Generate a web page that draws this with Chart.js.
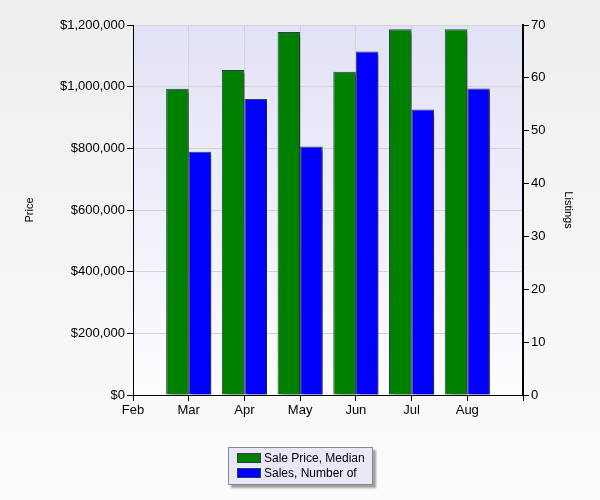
<!DOCTYPE html>
<html>
<head>
<meta charset="utf-8">
<script src="https://cdn.jsdelivr.net/npm/chart.js@4.4.0/dist/chart.umd.min.js"></script>
<style>
  body { margin: 0; background: #f7f7f7; }
  #wrap { position: relative; width: 600px; height: 500px; }
  #legend {
    position: absolute; left: 228px; top: 447px; width: 143px; height: 36px;
    background: #e8e8f8; border: 1px solid #8a8a8a;
    box-shadow: 3px 3px 2px #a0a0a0;
    font-family: "Liberation Sans", Arial, sans-serif; font-size: 12px; color: #000;
  }
  #legend .row { position: absolute; left: 8px; height: 14px; line-height: 14px; white-space: nowrap; }
  #legend .sw { display: inline-block; width: 22px; height: 8px; border: 1px solid #2f3f4f; vertical-align: -1px; margin-right: 3px; }
</style>
</head>
<body>
<div id="wrap">
  <canvas id="chart" width="600" height="500"></canvas>
  <div id="legend">
    <div class="row" style="top:3px"><span class="sw" style="background:#008000"></span>Sale Price, Median</div>
    <div class="row" style="top:18px"><span class="sw" style="background:#0000ff"></span>Sales, Number of</div>
  </div>
</div>
<script>
var months = ['Feb', 'Mar', 'Apr', 'May', 'Jun', 'Jul', 'Aug', 'Sep'];
var priceMedian = [null, 993000, 1054000, 1177000, 1048000, 1186000, 1186000, null];
var salesCount = [null, 46, 56, 47, 65, 54, 58, null];
var priceTicksMax = 1200000;
var listingsMax = 70;

// fond de la page et de la zone de tracé
var backgroundPlugin = {
    id: 'bg',
    beforeDraw: function (chart) {
        var ctx = chart.ctx;
        var a = chart.chartArea;
        var g = ctx.createLinearGradient(0, 0, 0, chart.height);
        g.addColorStop(0, '#eeeeee');
        g.addColorStop(1, '#fcfcfc');
        ctx.save();
        ctx.fillStyle = g;
        ctx.fillRect(0, 0, chart.width, chart.height);
        var g2 = ctx.createLinearGradient(0, a.top, 0, a.bottom);
        g2.addColorStop(0, '#e2e2f6');
        g2.addColorStop(1, '#fdfdff');
        ctx.fillStyle = g2;
        ctx.fillRect(a.left, a.top, a.right - a.left, a.bottom - a.top);
        ctx.restore();
    }
};

// ombre des barres
var shadowPlugin = {
    id: 'barShadow',
    beforeDatasetsDraw: function (chart) {
        var ctx = chart.ctx;
        ctx.save();
        ctx.shadowColor = 'rgba(0,0,0,0.45)';
        ctx.shadowOffsetX = 4;
        ctx.shadowOffsetY = 3;
        ctx.shadowBlur = 2;
    },
    afterDatasetsDraw: function (chart) {
        chart.ctx.restore();
    }
};

var tickFont = { family: '"Liberation Sans", Arial, sans-serif', size: 13 };
var titleFont = { family: '"Liberation Sans", Arial, sans-serif', size: 11 };

var ctx = document.getElementById('chart').getContext('2d');
var chart = new Chart(ctx, {
    type: 'bar',
    data: {
        labels: months,
        datasets: [{
            label: 'Sale Price, Median',
            data: priceMedian,
            yAxisID: 'y',
            backgroundColor: '#008000',
            borderColor: '#2f3f4f',
            borderWidth: 1
        }, {
            label: 'Sales, Number of',
            data: salesCount,
            yAxisID: 'y1',
            backgroundColor: '#0000ff',
            borderColor: '#2f3f4f',
            borderWidth: 1
        }]
    },
    options: {
        responsive: false,
        animation: false,
        layout: { padding: { top: 25, left: 0, right: 0, bottom: 0 } },
        datasets: { bar: { categoryPercentage: 0.81, barPercentage: 1.0 } },
        plugins: { legend: { display: false }, tooltip: { enabled: false } },
        scales: {
            x: {
                offset: false,
                grid: { offset: false, color: '#d4d4d4', tickColor: '#000', tickLength: 6 },
                border: { color: '#000', width: 1 },
                ticks: {
                    color: '#000', font: tickFont, maxRotation: 0, autoSkip: false, padding: 2,
                    callback: function (value, index) {
                        return index === months.length - 1 ? '' : months[index];
                    }
                },
                afterFit: function (scale) { scale.height = 105; }
            },
            y: {
                position: 'left',
                min: 0, max: priceTicksMax,
                ticks: {
                    stepSize: 200000, color: '#000', font: tickFont, padding: 2,
                    callback: function (v) { return '$' + v.toLocaleString('en-US'); }
                },
                grid: { color: '#d4d4d4', tickColor: '#000', tickLength: 6 },
                border: { color: '#000', width: 1 },
                title: { display: true, text: 'Price', color: '#000', font: titleFont, padding: { top: 23, bottom: 0 } },
                afterFit: function (scale) { scale.width = 133; }
            },
            y1: {
                position: 'right',
                min: 0, max: listingsMax,
                ticks: { stepSize: 10, color: '#000', font: tickFont, padding: 2 },
                grid: { drawOnChartArea: false, tickColor: '#000', tickLength: 6 },
                border: { color: '#000', width: 2 },
                title: { display: true, text: 'Listings', color: '#000', font: titleFont, padding: { top: 25, bottom: 0 } },
                afterFit: function (scale) { scale.width = 77; }
            }
        }
    },
    plugins: [backgroundPlugin, shadowPlugin]
});
</script>
</body>
</html>
